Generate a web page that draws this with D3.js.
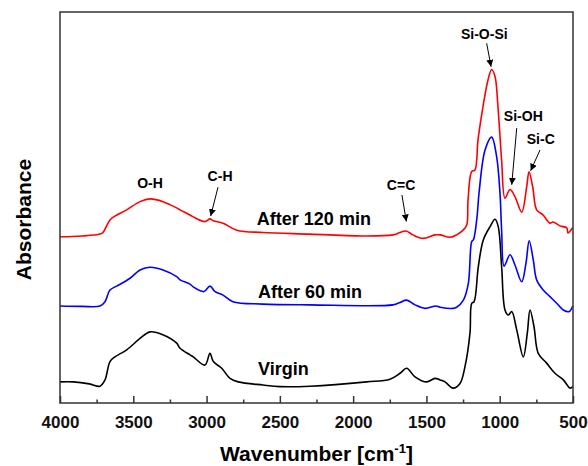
<!DOCTYPE html>
<meta charset="utf-8">
<script src="https://d3js.org/d3.v7.min.js"></script>
<style>
  body { margin: 0; background: #fff; }
  text { font-family: "Liberation Sans", Arial, sans-serif; font-weight: bold; }
</style>
<div id="my_dataviz"></div>
<script>

// spectra: [wavenumber, absorbance (a.u.)]
var virgin = [[4000,0.054],[3909,0.054],[3800,0.049],[3727,0.043],[3693,0.059],[3659,0.106],[3625,0.118],
  [3545,0.136],[3454,0.165],[3386,0.182],[3295,0.174],[3204,0.153],[3181,0.140],[3113,0.123],[3091,0.118],
  [3011,0.097],[2977,0.127],[2954,0.106],[2897,0.089],[2840,0.063],[2784,0.054],[2615,0.046],[2499,0.042],
  [2294,0.043],[1908,0.054],[1749,0.061],[1680,0.076],[1635,0.089],[1578,0.067],[1498,0.054],[1442,0.063],
  [1407,0.059],[1373,0.054],[1319,0.038],[1271,0.050],[1237,0.093],[1203,0.178],[1191,0.255],[1175,0.259],
  [1146,0.349],[1112,0.417],[1066,0.451],[1032,0.470],[1010,0.451],[987,0.349],[964,0.238],[941,0.225],
  [918,0.234],[884,0.187],[839,0.118],[812,0.178],[793,0.238],[766,0.195],[737,0.127],[680,0.102],
  [623,0.076],[566,0.059],[520,0.038],[502,0.042]];

var after60 = [[4000,0.248],[3850,0.247],[3727,0.248],[3693,0.259],[3659,0.289],[3613,0.299],[3522,0.319],
  [3454,0.340],[3386,0.347],[3297,0.340],[3204,0.323],[3181,0.315],[3113,0.304],[3091,0.297],[3018,0.285],
  [2977,0.299],[2942,0.285],[2888,0.276],[2820,0.259],[2615,0.253],[2294,0.251],[1728,0.251],[1680,0.257],
  [1635,0.263],[1578,0.251],[1510,0.242],[1435,0.248],[1407,0.245],[1319,0.242],[1294,0.245],[1248,0.263],
  [1214,0.306],[1191,0.413],[1180,0.417],[1157,0.468],[1139,0.545],[1100,0.647],[1055,0.680],[1021,0.630],
  [998,0.536],[987,0.442],[970,0.350],[930,0.379],[896,0.353],[850,0.310],[821,0.357],[799,0.415],
  [771,0.366],[748,0.315],[703,0.289],[657,0.272],[611,0.255],[566,0.238],[525,0.234],[502,0.248]];

var after120 = [[4000,0.425],[3850,0.427],[3727,0.432],[3707,0.436],[3659,0.468],[3625,0.478],[3545,0.494],
  [3454,0.515],[3386,0.522],[3297,0.515],[3204,0.499],[3181,0.494],[3113,0.481],[3091,0.476],[3011,0.464],
  [2977,0.471],[2954,0.466],[2888,0.460],[2794,0.442],[2615,0.436],[2294,0.432],[1908,0.427],[1728,0.430],
  [1680,0.436],[1639,0.440],[1592,0.430],[1523,0.421],[1442,0.430],[1407,0.430],[1339,0.424],[1294,0.430],
  [1250,0.442],[1225,0.455],[1216,0.519],[1191,0.592],[1169,0.596],[1148,0.673],[1114,0.758],[1080,0.826],
  [1055,0.853],[1032,0.835],[1012,0.758],[987,0.621],[964,0.524],[930,0.546],[896,0.528],[850,0.488],
  [816,0.553],[800,0.591],[775,0.553],[748,0.494],[705,0.481],[657,0.460],[637,0.463],[589,0.453],
  [543,0.448],[534,0.435],[509,0.445],[502,0.448]];

var seriesNames = ["Virgin", "After 60 min", "After 120 min"];
var seriesColors = ["#000000", "#0000ff", "#ff0000"];
// label anchor: [wavenumber, absorbance] of the text start
var seriesLabelPos = [[2649,0.072],[2649,0.269],[2657,0.455]];

// band assignments: text position and arrow [from, to]
var bandNames = ["O-H", "C-H", "C=C", "Si-O-Si", "Si-OH", "Si-C"];
var bandText = [[3386,0.550],[2908,0.568],[1673,0.545],[1105,0.932],[839,0.720],[720,0.662]];
var bandArrow = [null, [[2922,0.552],[2972,0.478]], [[1667,0.532],[1637,0.464]],
  [[1089,0.920],[1059,0.860]], [[884,0.703],[918,0.558]], [[725,0.647],[789,0.594]]];

var xTicks = [4000,3500,3000,2500,2000,1500,1000,500];
var xMinor = [3750,3250,2750,2250,1750,1250,750];

var margin = {top: 12, right: 15, bottom: 63, left: 60},
  width = 588 - margin.left - margin.right,
  height = 466 - margin.top - margin.bottom;

var svg = d3.select("#my_dataviz")
  .append("svg")
    .attr("width", width + margin.left + margin.right)
    .attr("height", height + margin.top + margin.bottom)
  .append("g")
    .attr("transform", "translate(" + margin.left + "," + margin.top + ")");

var x = d3.scaleLinear().domain([4000, 500]).range([0, width]);
var y = d3.scaleLinear().domain([0, 1]).range([height, 0]);

svg.append("defs").append("marker")
    .attr("id", "arrow")
    .attr("viewBox", "0 0 10 10")
    .attr("refX", 10).attr("refY", 5)
    .attr("markerWidth", 7).attr("markerHeight", 7)
    .attr("markerUnits", "userSpaceOnUse")
    .attr("orient", "auto")
  .append("path")
    .attr("d", "M0,0 L10,5 L0,10 z")
    .attr("fill", "#000");

// curves
var line = d3.line()
  .x(function(d) { return x(d[0]); })
  .y(function(d) { return y(d[1]); })
  .curve(d3.curveCatmullRom.alpha(0.5));

[virgin, after60, after120].forEach(function(s, i) {
  svg.append("path")
    .datum(s)
    .attr("fill", "none")
    .attr("stroke", seriesColors[i])
    .attr("stroke-width", 1.6)
    .attr("d", line);
  svg.append("text")
    .attr("x", x(seriesLabelPos[i][0]))
    .attr("y", y(seriesLabelPos[i][1]))
    .style("font-size", "18px")
    .text(seriesNames[i]);
});

// band labels and arrows
bandNames.forEach(function(b, i) {
  svg.append("text")
    .attr("x", x(bandText[i][0]))
    .attr("y", y(bandText[i][1]))
    .attr("text-anchor", "middle")
    .style("font-size", "14px")
    .text(b);
  if (bandArrow[i]) {
    svg.append("line")
      .attr("x1", x(bandArrow[i][0][0])).attr("y1", y(bandArrow[i][0][1]))
      .attr("x2", x(bandArrow[i][1][0])).attr("y2", y(bandArrow[i][1][1]))
      .attr("stroke", "#000")
      .attr("stroke-width", 1)
      .attr("marker-end", "url(#arrow)");
  }
});

// bottom axis (ticks inward)
var xAxis = svg.append("g")
  .attr("transform", "translate(0," + height + ")")
  .call(d3.axisBottom(x).tickValues(xTicks).tickFormat(d3.format("d"))
    .tickSizeInner(-7).tickSizeOuter(0).tickPadding(13));
xAxis.select(".domain").remove();
xAxis.selectAll(".tick line").attr("stroke", "#333").attr("stroke-width", 1.5);
xAxis.selectAll("text").style("font-size", "17px").attr("fill", "#111");

svg.append("g")
  .attr("transform", "translate(0," + height + ")")
  .call(d3.axisBottom(x).tickValues(xMinor).tickSizeInner(-3.5).tickSizeOuter(0).tickFormat(""))
  .call(function(g) { g.select(".domain").remove(); })
  .selectAll(".tick line").attr("stroke", "#333").attr("stroke-width", 1.5);

// frame
svg.append("rect")
  .attr("x", 0).attr("y", 0)
  .attr("width", width).attr("height", height)
  .attr("fill", "none")
  .attr("stroke", "#333")
  .attr("stroke-width", 1.5);

// axis titles
var xt = svg.append("text")
  .attr("x", width / 2)
  .attr("y", height + 58)
  .attr("text-anchor", "middle")
  .style("font-size", "21px");
xt.append("tspan").text("Wavenumber [cm");
xt.append("tspan").attr("dy", -8).style("font-size", "13px").text("-1");
xt.append("tspan").attr("dy", 8).text("]");

svg.append("text")
  .attr("transform", "translate(" + (-29) + "," + (height / 2 + 12) + ") rotate(-90)")
  .attr("text-anchor", "middle")
  .style("font-size", "21px")
  .text("Absorbance");

</script>
